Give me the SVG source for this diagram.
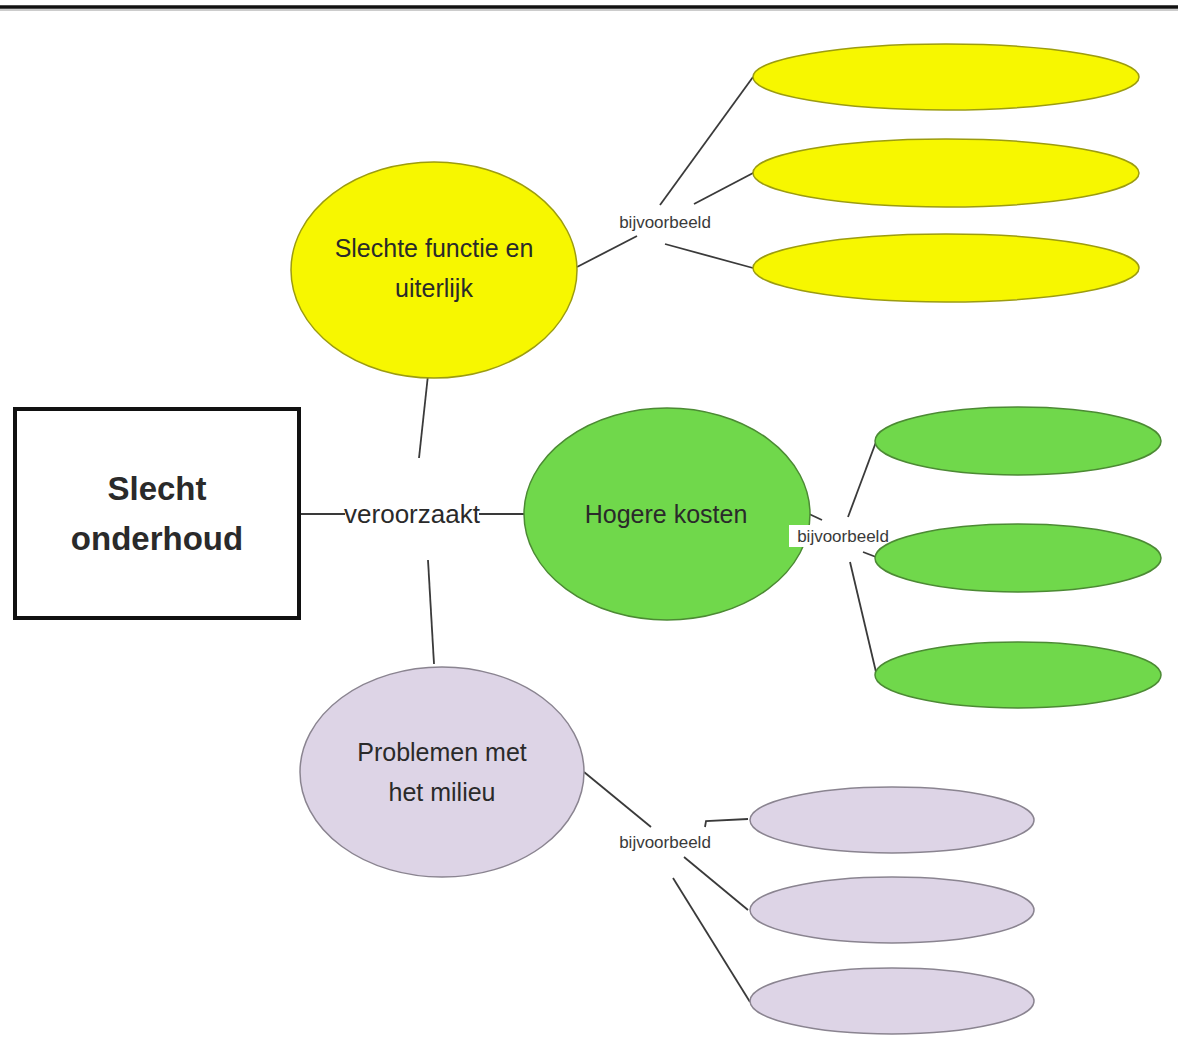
<svg xmlns="http://www.w3.org/2000/svg" width="1178" height="1044" viewBox="0 0 1178 1044">
<style>
.t{font-family:"Liberation Sans",Arial,sans-serif;fill:#2a2a2a;text-anchor:middle}
.big{font-size:25px}
.lbl{font-size:17px;fill:#3a3a3a}
.y{fill:#f7f700;stroke:#9c9c10;stroke-width:1.5}
.g{fill:#70d84b;stroke:#4c8a34;stroke-width:1.5}
.p{fill:#ddd4e6;stroke:#8a8490;stroke-width:1.5}
.c{stroke:#3a3a3a;stroke-width:1.8;fill:none}
</style>
<rect x="0" y="0" width="1178" height="1044" fill="#ffffff"/>
<line x1="0" y1="7" x2="1178" y2="7" stroke="#111" stroke-width="3.5"/>
<line x1="0" y1="10" x2="1178" y2="10" stroke="#bbb" stroke-width="1.5"/>

<g id="connectors">
  <line class="c" x1="300" y1="514" x2="345" y2="514"/>
  <line class="c" x1="479" y1="514" x2="525" y2="514"/>
  <line class="c" x1="428" y1="375" x2="419" y2="458"/>
  <line class="c" x1="428" y1="560" x2="434" y2="664"/>
  <line class="c" x1="577" y1="267" x2="637" y2="236"/>
  <line class="c" x1="660" y1="205" x2="753" y2="77"/>
  <line class="c" x1="694" y1="204" x2="755" y2="172"/>
  <line class="c" x1="665" y1="244" x2="753" y2="268"/>
  <line class="c" x1="807" y1="513" x2="822" y2="520"/>
  <line class="c" x1="848" y1="517" x2="876" y2="442"/>
  <line class="c" x1="863" y1="552" x2="876" y2="557"/>
  <line class="c" x1="850" y1="562" x2="876" y2="672"/>
  <line class="c" x1="584" y1="772" x2="651" y2="827"/>
  <polyline class="c" points="705,827 706,821 748,819"/>
  <line class="c" x1="684" y1="857" x2="748" y2="910"/>
  <line class="c" x1="673" y1="878" x2="750" y2="1002"/>
</g>

<g id="slecht-onderhoud">
  <rect x="15" y="409" width="284" height="209" fill="#fff" stroke="#111" stroke-width="4"/>
  <text class="t" x="157" y="500" font-size="33" font-weight="bold" fill="#222">Slecht</text>
  <text class="t" x="157" y="550" font-size="33" font-weight="bold" fill="#222">onderhoud</text>
</g>

<g id="veroorzaakt">
  <text class="t" x="412" y="523" font-size="26" fill="#333">veroorzaakt</text>
</g>

<g id="slechte-functie">
  <ellipse class="y" cx="434" cy="270" rx="143" ry="108"/>
  <text class="t big" x="434" y="257">Slechte functie en</text>
  <text class="t big" x="434" y="297">uiterlijk</text>
</g>
<g id="label-yellow"><text class="t lbl" x="665" y="228">bijvoorbeeld</text></g>
<g id="y1"><ellipse class="y" cx="946" cy="77" rx="193" ry="33"/></g>
<g id="y2"><ellipse class="y" cx="946" cy="173" rx="193" ry="34"/></g>
<g id="y3"><ellipse class="y" cx="946" cy="268" rx="193" ry="34"/></g>

<g id="hogere-kosten">
  <ellipse class="g" cx="667" cy="514" rx="143" ry="106"/>
  <text class="t big" x="666" y="523" fill="#12400f">Hogere kosten</text>
</g>
<g id="label-green">
  <rect x="789" y="525" width="108" height="22" fill="#fff"/>
  <text class="t lbl" x="843" y="542">bijvoorbeeld</text>
</g>
<g id="g1"><ellipse class="g" cx="1018" cy="441" rx="143" ry="34"/></g>
<g id="g2"><ellipse class="g" cx="1018" cy="558" rx="143" ry="34"/></g>
<g id="g3"><ellipse class="g" cx="1018" cy="675" rx="143" ry="33"/></g>

<g id="problemen-milieu">
  <ellipse class="p" cx="442" cy="772" rx="142" ry="105"/>
  <text class="t big" x="442" y="761">Problemen met</text>
  <text class="t big" x="442" y="801">het milieu</text>
</g>
<g id="label-purple"><text class="t lbl" x="665" y="848">bijvoorbeeld</text></g>
<g id="p1"><ellipse class="p" cx="892" cy="820" rx="142" ry="33"/></g>
<g id="p2"><ellipse class="p" cx="892" cy="910" rx="142" ry="33"/></g>
<g id="p3"><ellipse class="p" cx="892" cy="1001" rx="142" ry="33"/></g>
</svg>
